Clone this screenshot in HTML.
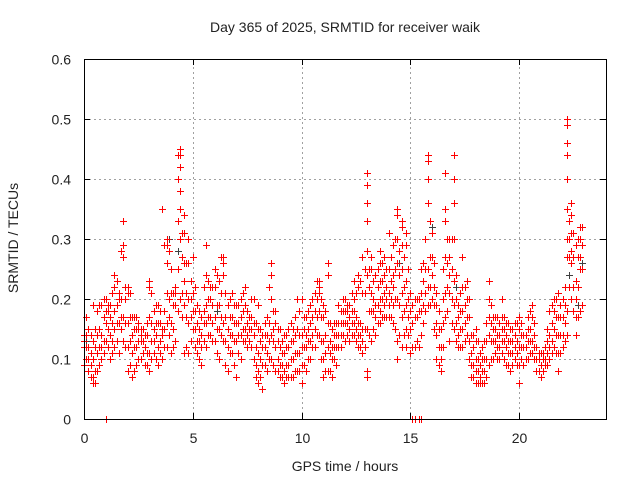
<!DOCTYPE html>
<html><head><meta charset="utf-8"><style>
body{margin:0;background:#fff}
svg text{font-family:"Liberation Sans",sans-serif;font-size:14px;fill:#222}
</style></head><body>
<svg id="chart" width="640" height="480" xmlns="http://www.w3.org/2000/svg">
<text x="345" y="32" text-anchor="middle">Day 365 of 2025, SRMTID for receiver waik</text>
<text transform="translate(18,238) rotate(-90)" text-anchor="middle">SRMTID / TECUs</text>
<text x="345" y="471" text-anchor="middle">GPS time / hours</text>
<g id="grid"></g>
<g id="ticks"></g>
<g id="gray"></g>
<g id="red"></g>
<rect x="84.5" y="59.5" width="522" height="360" fill="none" stroke="#000" stroke-width="1"/>
</svg>
<script>
const xTicks=[0,5,10,15,20];
const yTicks=[0,0.1,0.2,0.3,0.4,0.5,0.6];
const yTickLabels=["0","0.1","0.2","0.3","0.4","0.5","0.6"];
const redTimes=[0,0.2,0.4,0.6,0.8,1.0,1.2,1.4,1.6,1.8,2.0,2.2,2.4,2.6,2.8,3.0,3.2,3.4,3.6,3.8,4.0,4.2,4.4,4.6,4.8,5.0,5.2,5.4,5.6,5.8,6.0,6.2,6.4,6.6,6.8,7.0,7.2,7.4,7.6,7.8,8.0,8.2,8.4,8.6,8.8,9.0,9.2,9.4,9.6,9.8,10.0,10.2,10.4,10.6,10.8,11.0,11.2,11.4,11.6,11.8,12.0,12.2,12.4,12.6,12.8,13.0,13.2,13.4,13.6,13.8,14.0,14.2,14.4,14.6,14.8,15.0,15.2,15.4,15.6,15.8,16.0,16.2,16.4,16.6,16.8,17.0,17.2,17.4,17.6,17.8,18.0,18.2,18.4,18.6,18.8,19.0,19.2,19.4,19.6,19.8,20.0,20.2,20.4,20.6,20.8,21.0,21.2,21.4,21.6,21.8,22.0,22.2,22.4,22.6,22.8];
const redValues=[[0.09,0.12,0.13,0.14],[0.08,0.10,0.12,0.15],[0.06,0.07,0.10,0.13,0.19],[0.08,0.11,0.14,0.18],[0.10,0.12,0.14,0.19],[0.13,0.16,0.18,0.20],[0.10,0.14,0.17,0.19],[0.12,0.15,0.18,0.22,0.24],[0.11,0.16,0.20,0.21],[0.13,0.17,0.27,0.29,0.33],[0.08,0.12,0.16,0.21,0.22],[0.07,0.11,0.14,0.17],[0.09,0.12,0.15,0.17],[0.10,0.13,0.14,0.15],[0.09,0.12,0.14],[0.08,0.11,0.17,0.22,0.23],[0.11,0.13,0.15,0.18],[0.09,0.12,0.16,0.19],[0.10,0.14,0.15,0.35],[0.12,0.16,0.21,0.26,0.29,0.30],[0.11,0.16,0.21,0.25],[0.13,0.19,0.21,0.22],[0.20,0.30,0.35,0.38,0.42,0.44,0.45],[0.11,0.19,0.23,0.26,0.31,0.34],[0.11,0.16,0.20,0.26,0.30],[0.15,0.18,0.21,0.27],[0.11,0.13,0.16,0.19],[0.09,0.12,0.14,0.17],[0.12,0.16,0.19,0.24,0.29],[0.14,0.17,0.20,0.22],[0.13,0.17,0.22,0.25],[0.10,0.15,0.19,0.23],[0.13,0.16,0.24,0.26,0.27],[0.08,0.12,0.15,0.19],[0.11,0.14,0.17,0.21],[0.07,0.13,0.16,0.19],[0.10,0.14,0.17,0.20],[0.13,0.15,0.19,0.22],[0.13,0.15,0.17],[0.10,0.14,0.16,0.20],[0.06,0.08,0.11,0.15,0.19],[0.05,0.09,0.12,0.14],[0.08,0.11,0.14,0.17],[0.10,0.14,0.20,0.24,0.26],[0.08,0.12,0.16,0.18],[0.07,0.09,0.12,0.15],[0.06,0.08,0.11,0.14],[0.07,0.09,0.12,0.15],[0.07,0.10,0.13,0.15],[0.08,0.11,0.15,0.20],[0.06,0.09,0.12,0.14,0.20],[0.08,0.12,0.14,0.17],[0.10,0.13,0.16,0.19],[0.12,0.15,0.18,0.21],[0.14,0.18,0.21,0.22,0.23],[0.07,0.10,0.13,0.17,0.19],[0.08,0.12,0.16,0.24,0.26],[0.07,0.10,0.12,0.15],[0.09,0.12,0.14,0.16],[0.12,0.14,0.16,0.18],[0.13,0.16,0.18,0.20],[0.13,0.15,0.17,0.19],[0.14,0.16,0.18,0.20,0.23],[0.12,0.14,0.16,0.22,0.24],[0.11,0.13,0.15,0.21,0.27],[0.07,0.08,0.15,0.24,0.28,0.33,0.36,0.39,0.41],[0.13,0.18,0.21,0.25,0.27],[0.14,0.17,0.19,0.24],[0.16,0.18,0.20,0.23,0.26,0.28],[0.17,0.19,0.21,0.24,0.27],[0.17,0.19,0.21,0.25,0.31],[0.16,0.19,0.22,0.24,0.29],[0.10,0.13,0.20,0.26,0.30,0.34,0.35],[0.12,0.17,0.21,0.25,0.29,0.32,0.33],[0.12,0.15,0.19,0.23,0.29,0.31],[0.11,0.15,0.18,0.21],[0.12,0.17,0.20],[0.12,0.18,0.20],[0.16,0.19,0.23,0.26],[0.19,0.22,0.25,0.36,0.40,0.43,0.44],[0.20,0.24,0.27,0.31],[0.10,0.14,0.16,0.19,0.21],[0.08,0.10,0.12,0.15],[0.17,0.21,0.27,0.33,0.35,0.41],[0.13,0.21,0.24,0.27,0.30],[0.15,0.19,0.23,0.30,0.36,0.40,0.44],[0.12,0.14,0.17,0.19],[0.12,0.15,0.18,0.22,0.27],[0.14,0.17,0.20,0.23],[0.07,0.09,0.11,0.14],[0.06,0.08,0.10,0.13,0.15],[0.06,0.07,0.09,0.11],[0.06,0.08,0.10,0.13],[0.09,0.14,0.17,0.20,0.23],[0.10,0.13,0.15,0.17],[0.10,0.12,0.14,0.17],[0.11,0.13,0.15,0.17,0.20],[0.09,0.12,0.14,0.16],[0.08,0.11,0.13,0.15],[0.10,0.12,0.14,0.16],[0.06,0.09,0.12,0.15,0.17],[0.09,0.12,0.14],[0.10,0.13,0.15,0.17],[0.11,0.13,0.17,0.19],[0.08,0.10,0.12],[0.07,0.09,0.11],[0.09,0.10,0.12],[0.10,0.12,0.14,0.18],[0.12,0.15,0.18,0.20],[0.08,0.11,0.14,0.17,0.21],[0.12,0.14,0.17,0.20],[0.14,0.18,0.27,0.30,0.35,0.40,0.44,0.46,0.49,0.50],[0.20,0.26,0.28,0.31,0.34,0.36],[0.14,0.17,0.20,0.23,0.29],[0.18,0.25,0.27,0.30,0.32]];
const redTimesB=[0.1,0.3,0.5,0.7,0.9,1.1,1.3,1.5,1.7,1.9,2.1,2.3,2.5,2.7,2.9,3.1,3.3,3.5,3.7,3.9,4.1,4.3,4.5,4.7,4.9,5.1,5.3,5.5,5.7,5.9,6.1,6.3,6.5,6.7,6.9,7.1,7.3,7.5,7.7,7.9,8.1,8.3,8.5,8.7,8.9,9.1,9.3,9.5,9.7,9.9,10.1,10.3,10.5,10.7,10.9,11.1,11.3,11.5,11.7,11.9,12.1,12.3,12.5,12.7,12.9,13.1,13.3,13.5,13.7,13.9,14.1,14.3,14.5,14.7,14.9,15.1,15.3,15.5,15.7,15.9,16.1,16.3,16.5,16.7,16.9,17.1,17.3,17.5,17.7,17.9,18.1,18.3,18.5,18.7,18.9,19.1,19.3,19.5,19.7,19.9,20.1,20.3,20.5,20.7,20.9,21.1,21.3,21.5,21.7,21.9,22.1,22.3,22.5,22.7,22.9];
const redValuesB=[[.10,.12,.14,.17],[.07,.09,.11,.14],[.06,.08,.12,.15],[.09,.12,.15,.19],[.11,.13,.17,.20],[.12,.15,.18,.19],[.11,.13,.16,.21],[.13,.16,.19,.23],[.15,.17,.20,.28],[.12,.16,.20,.22],[.09,.13,.17,.21],[.08,.12,.15,.17],[.10,.13,.15,.16],[.11,.13,.15],[.09,.11,.14,.16],[.10,.13,.16,.21],[.10,.14,.16,.19],[.11,.13,.16,.18],[.12,.15,.18,.29],[.14,.17,.20,.28],[.12,.15,.19,.21],[.18,.25,.33,.40,.44],[.17,.21,.27,.31],[.12,.17,.21,.26],[.13,.17,.20,.23],[.12,.15,.18,.22],[.10,.13,.15,.18],[.13,.16,.18,.22],[.14,.17,.20,.23],[.13,.16,.19,.22],[.11,.15,.19,.24],[.14,.17,.21,.27],[.09,.13,.17,.21],[.11,.14,.17,.20],[.09,.13,.16,.19],[.11,.14,.16,.19],[.13,.15,.18,.21],[.12,.14,.16,.18],[.12,.15,.17,.20],[.07,.09,.12,.16],[.07,.10,.13,.15],[.09,.12,.14,.16],[.10,.13,.16,.22],[.09,.13,.15,.18],[.08,.10,.13,.15],[.07,.09,.11,.13],[.07,.09,.12,.14],[.07,.10,.13,.16],[.08,.11,.14,.17],[.08,.11,.14,.18],[.09,.12,.15,.17],[.10,.13,.15,.18],[.12,.14,.17,.20],[.14,.17,.20,.23],[.10,.13,.17,.20],[.08,.11,.14,.18],[.08,.11,.13,.16],[.10,.12,.14,.16],[.12,.14,.16,.19],[.14,.16,.18,.20],[.14,.16,.18,.19],[.14,.16,.18,.21],[.13,.15,.17,.21],[.12,.14,.16,.23],[.12,.15,.21,.25],[.14,.18,.22,.25],[.15,.18,.20,.23],[.16,.19,.22,.25],[.17,.20,.23,.26],[.17,.20,.22,.25],[.17,.20,.23,.27],[.15,.20,.25,.30],[.14,.19,.24,.28],[.14,.18,.22,.27],[.14,.17,.20,.25],[.12,.16,.19],[.13,.17,.20],[.14,.18,.21,.25],[.18,.21,.25,.30],[.19,.22,.27,.33],[.15,.19,.22,.26],[.09,.12,.15,.18],[.12,.16,.20,.25],[.18,.22,.26,.30],[.16,.20,.25,.30],[.13,.16,.20,.24],[.12,.15,.18,.21],[.13,.16,.19,.22],[.10,.13,.17,.20],[.07,.09,.12,.14],[.06,.08,.10,.13],[.06,.08,.10,.12],[.07,.10,.13,.16],[.10,.13,.16,.19],[.11,.13,.15,.17],[.10,.12,.14,.16],[.10,.13,.15,.17],[.09,.11,.13,.16],[.09,.11,.13,.15],[.09,.11,.13,.16],[.10,.12,.14,.16],[.10,.12,.14],[.11,.13,.15,.18],[.10,.12,.14,.16],[.08,.10,.11],[.08,.10,.11],[.09,.11,.13,.15],[.11,.13,.16,.19],[.11,.14,.17,.20],[.11,.14,.17,.19],[.13,.16,.19,.22],[.22,.27,.30,.33],[.18,.22,.27,.31],[.17,.22,.27,.30],[.19,.25,.29,.32]];
const zeroTimes=[1.0,15.1,15.2,15.4,15.5];
const grayTimes=[0.1,3.9,4.3,6.1,10.5,13.3,14.5,16.0,17.1,22.3,22.7,22.9];
const grayValues=[0.13,0.30,0.28,0.18,0.12,0.15,0.26,0.32,0.22,0.24,0.19,0.26];
const NS="http://www.w3.org/2000/svg";
const X0=84,X1=606,Y0=419,Y1=59,XMAX=24,YMAX=0.6;
const sx=t=>X0+(X1-X0)*t/XMAX;
const sy=v=>Y0-(Y0-Y1)*v/YMAX;
function mk(tag,attrs,parent){const e=document.createElementNS(NS,tag);for(const k in attrs)e.setAttribute(k,attrs[k]);parent.appendChild(e);return e;}
const grid=document.getElementById('grid'),ticks=document.getElementById('ticks');
xTicks.forEach(t=>{const x=Math.round(sx(t))+0.5;
 if(t>0){const g=mk('line',{x1:x,x2:x,y1:Y0,y2:Y1,stroke:'#a0a0a0','stroke-dasharray':'2,3'},grid);}
 mk('line',{x1:x,x2:x,y1:Y0,y2:Y0-6,stroke:'#000'},ticks);mk('line',{x1:x,x2:x,y1:Y1,y2:Y1+6,stroke:'#000'},ticks);
 const l=mk('text',{x:x,y:443,'text-anchor':'middle'},ticks);l.textContent=t;
 
 });
yTicks.forEach((v,i)=>{const y=Math.round(sy(v))+0.5;
 if(v>0&&v<YMAX){const g=mk('line',{x1:X0,x2:X1,y1:y,y2:y,stroke:'#a0a0a0','stroke-dasharray':'2,3'},grid);}
 mk('line',{x1:X0,x2:X0+6,y1:y,y2:y,stroke:'#000'},ticks);mk('line',{x1:X1,x2:X1-6,y1:y,y2:y,stroke:'#000'},ticks);
 const l=mk('text',{x:71,y:y+5,'text-anchor':'end'},ticks);l.textContent=yTickLabels[i];
 
 });
function plus(g,t,v,c){const x=Math.round(sx(t)),y=Math.round(sy(v));
 const p=mk('path',{d:`M${x-3},${y}h7v1h-7zM${x},${y-3}h1v7h-1z`,fill:c},g);
 
 }
const gG=document.getElementById('gray'),gR=document.getElementById('red');
grayTimes.forEach((t,i)=>plus(gG,t,grayValues[i],'#404040'));
redTimes.forEach((t,i)=>redValues[i].forEach(v=>plus(gR,t,v,'#ff0000')));
redTimesB.forEach((t,i)=>redValuesB[i].forEach(v=>plus(gR,t,v,'#ff0000')));
zeroTimes.forEach(t=>plus(gR,t,0,'#ff0000'));
</script>
</body></html>
